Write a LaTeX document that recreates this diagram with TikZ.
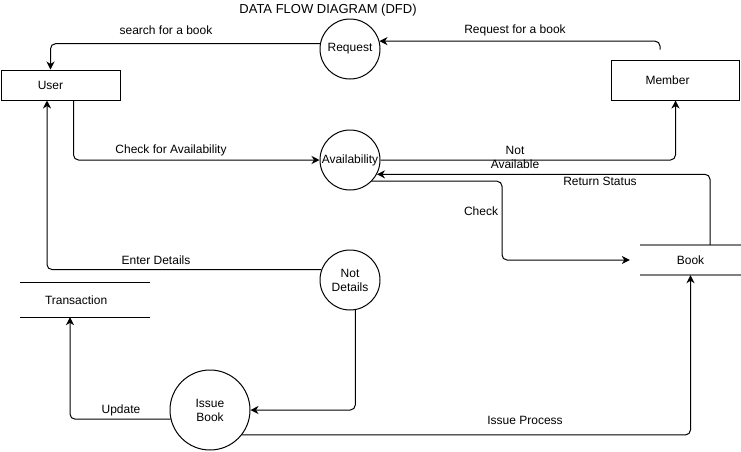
\documentclass[tikz,border=0pt]{standalone}
\usepackage{fontspec}
\setmainfont{Liberation Sans}
\usetikzlibrary{arrows.meta,positioning,calc}
\tikzset{proc/.style={draw,circle,minimum size=60pt,inner sep=0pt,align=center,line width=1pt},
 ent/.style={draw,minimum height=30pt,line width=1pt},
 store/.style={minimum height=30pt,inner sep=0pt},
 flow/.style={-{Stealth[length=8pt,width=8pt,inset=2.5pt]},line width=1pt,rounded corners=5pt},
 lbl/.style={align=center,inner sep=1pt}}

\begin{document}
\begin{tikzpicture}[x=1pt,y=-1pt,font=\fontsize{12}{14}\selectfont]
\useasboundingbox (0,0) rectangle (741,451);
\node[lbl,font=\fontsize{13}{15}\selectfont](ttl) at (328,10){DATA FLOW DIAGRAM (DFD)};
% entities and processes
\node[ent,minimum width=119pt,label={[xshift=-10pt]center:User}](usr) at (60.5,85){};
\node[ent,minimum width=128pt,minimum height=40pt,label={[xshift=-8pt]center:Member}](mem) at (675.5,80){};
\node[proc](req) at (350,49){Request};
\node[proc](avl) at (350,160){Availability};
\node[proc](nd) at (350,280){Not\\Details};
\node[proc,minimum size=80pt](ib) at (210,410){Issue\\Book};
% data stores
\node[store,minimum width=101pt](bk) at (690.5,260){Book};
\draw[gray,line width=2pt](bk.north west)--(bk.north east)(bk.south west)--(bk.south east);
\node[store,minimum width=130pt,minimum height=34pt,text width=80pt,inner xsep=25pt,align=left](trn) at (85,300){Transaction};
\draw[line width=1pt](trn.north west)--(trn.north east)(trn.south west)--(trn.south east);
% flows
\draw[flow](req.170) -| ([xshift=-10pt]usr.north);
\draw[flow]([xshift=-15.5pt,yshift=10pt]mem.north) |- (req.15);
\draw[flow]([xshift=13pt]usr.south) |- (avl.west);
\draw[flow](avl.east) -| (mem.south);
\draw[flow]([xshift=19.5pt]bk.north) |- (avl.-28);
\coordinate (ck) at (502,260);
\draw[flow](avl.-44) -| (ck) -- ([xshift=-10pt]bk.west);
\draw[flow](nd.160) -| ([xshift=-13.5pt]usr.south);
\draw[flow](nd.-80) |- (ib.east);
\draw[flow](ib.193) -| ([xshift=-15pt]trn.south);
\draw[flow](ib.-38) -| (bk.south);
% flow labels
\node[lbl](l1) at (166,30){search for a book};
\node[lbl](l2) at (515,30){Request for a book};
\node[lbl](l3) at (171,150){Check for Availability};
\node[lbl](l4) at (515,157){Not\\Available};
\node[lbl](l5) at (600,181){Return Status};
\node[lbl](l6) at (481,211){Check};
\node[lbl](l7) at (156,260){Enter Details};
\node[lbl](l8) at (121,410){Update};
\node[lbl](l9) at (525,420){Issue Process};
\end{tikzpicture}
\end{document}
